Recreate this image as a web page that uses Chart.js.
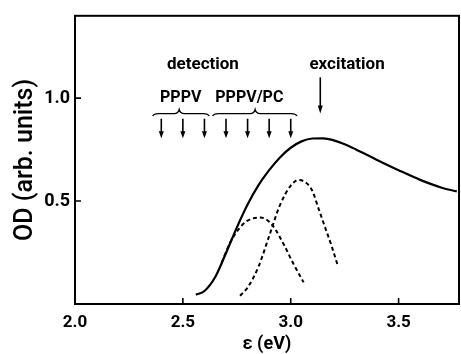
<!DOCTYPE html>
<html>
<head>
<meta charset="utf-8">
<script src="https://cdn.jsdelivr.net/npm/chart.js@4.4.1/dist/chart.umd.min.js"></script>
<style>
html,body{margin:0;padding:0;background:#fff;}
canvas{display:block;}
</style>
</head>
<body>
<canvas id="c" width="461" height="354"></canvas>
<script>
// ---- data ----
const absorptionX = [2.56, 2.60, 2.65, 2.70, 2.75, 2.80, 2.85, 2.90, 2.95, 3.00, 3.05, 3.10, 3.15, 3.20, 3.25, 3.30, 3.35, 3.40, 3.50, 3.60, 3.70, 3.77];
const absorptionY = [0.045, 0.063, 0.131, 0.248, 0.371, 0.483, 0.576, 0.650, 0.712, 0.759, 0.790, 0.804, 0.805, 0.795, 0.776, 0.752, 0.726, 0.700, 0.650, 0.603, 0.565, 0.547];
const pppvX = [2.68, 2.72, 2.76, 2.80, 2.86, 2.90, 2.93, 2.97, 3.01, 3.06];
const pppvY = [0.20, 0.30, 0.365, 0.405, 0.42, 0.40, 0.36, 0.285, 0.20, 0.105];
const pppvPcX = [2.765, 2.80, 2.85, 2.90, 2.95, 3.00, 3.035, 3.07, 3.10, 3.13, 3.16, 3.19, 3.22];
const pppvPcY = [0.04, 0.08, 0.18, 0.33, 0.48, 0.575, 0.602, 0.59, 0.55, 0.46, 0.37, 0.28, 0.18];
const xTicks = [2.0, 2.5, 3.0, 3.5];
const yTicks = [0.5, 1.0];
const detectionEnergies = [2.4, 2.5, 2.6, 2.7, 2.8, 2.9, 3.0];
const excitationEnergy = 3.137;
const textLabels = ["detection", "excitation", "PPPV", "PPPV/PC"];
const labelX = [2.593, 3.261, 2.49, 2.808];
const labelY = [1.141, 1.141, 0.981, 0.981];
const braceStart = [2.36, 2.638];
const braceEnd = [2.622, 3.029];
const braceTip = [2.483, 2.835];

const FONT = "Roboto, 'Liberation Sans', sans-serif";

function pts(xs, ys){ return xs.map((x,i)=>({x:x, y:ys[i]})); }

const framePlugin = {
  id: 'frame',
  afterDraw(chart){
    const ctx = chart.ctx, a = chart.chartArea;
    const xs = chart.scales.x, ys = chart.scales.y;
    ctx.save();
    ctx.strokeStyle = '#000';
    ctx.lineWidth = 2;
    ctx.strokeRect(a.left, a.top, a.right - a.left, a.bottom - a.top);
    // inward tick marks
    ctx.lineWidth = 1.6;
    ctx.beginPath();
    xTicks.forEach(v => { if (v > xs.min) { const p = xs.getPixelForValue(v); ctx.moveTo(p, a.bottom); ctx.lineTo(p, a.bottom - 6); } });
    yTicks.forEach(v => { const p = ys.getPixelForValue(v); ctx.moveTo(a.left, p); ctx.lineTo(a.left + 6, p); });
    ctx.stroke();

    // annotation text
    ctx.fillStyle = '#000';
    ctx.textAlign = 'center';
    ctx.textBaseline = 'alphabetic';
    textLabels.forEach((t,i) => {
      ctx.font = (i < 2 ? "bold 17px " : "bold 16px ") + FONT;
      ctx.fillText(t, xs.getPixelForValue(labelX[i]), ys.getPixelForValue(labelY[i]));
    });

    // arrow helper
    function arrow(x, yTop, yBot, headH, headW){
      const px = xs.getPixelForValue(x);
      const p1 = ys.getPixelForValue(yTop), p2 = ys.getPixelForValue(yBot);
      ctx.beginPath();
      ctx.lineWidth = 1.6;
      ctx.moveTo(px, p1); ctx.lineTo(px, p2 - headH + 1);
      ctx.stroke();
      ctx.beginPath();
      ctx.moveTo(px - headW/2, p2 - headH);
      ctx.lineTo(px + headW/2, p2 - headH);
      ctx.lineTo(px, p2);
      ctx.closePath();
      ctx.fill();
    }
    detectionEnergies.forEach(e => arrow(e, 0.90, 0.805, 7, 5));
    arrow(excitationEnergy, 1.101, 0.925, 8, 5);

    // braces
    ctx.lineWidth = 1.4;
    braceStart.forEach((s,i) => {
      const x1 = xs.getPixelForValue(s), x2 = xs.getPixelForValue(braceEnd[i]), xm = xs.getPixelForValue(braceTip[i]);
      const yEnd = ys.getPixelForValue(0.913), yMid = ys.getPixelForValue(0.925), yTip = ys.getPixelForValue(0.944);
      ctx.beginPath();
      ctx.moveTo(x1, yEnd);
      ctx.quadraticCurveTo(x1 + 1, yMid, x1 + 6, yMid);
      ctx.lineTo(xm - 5, yMid);
      ctx.quadraticCurveTo(xm - 1, yMid, xm, yTip);
      ctx.quadraticCurveTo(xm + 1, yMid, xm + 5, yMid);
      ctx.lineTo(x2 - 6, yMid);
      ctx.quadraticCurveTo(x2 - 1, yMid, x2, yEnd);
      ctx.stroke();
    });
    ctx.restore();
  }
};

new Chart(document.getElementById('c'), {
  type: 'line',
  data: {
    datasets: [
      { data: pts(absorptionX, absorptionY), borderColor: '#000', borderWidth: 2.2, pointRadius: 0, cubicInterpolationMode: 'monotone', fill: false },
      { data: pts(pppvX, pppvY), borderColor: '#000', borderWidth: 2, borderDash: [4, 3], pointRadius: 0, cubicInterpolationMode: 'monotone', fill: false },
      { data: pts(pppvPcX, pppvPcY), borderColor: '#000', borderWidth: 2, borderDash: [4, 3], pointRadius: 0, cubicInterpolationMode: 'monotone', fill: false }
    ]
  },
  options: {
    responsive: false,
    animation: false,
    events: [],
    layout: { padding: { left: 0, top: 13, right: 2, bottom: 0 } },
    plugins: { legend: { display: false }, tooltip: { enabled: false } },
    scales: {
      x: {
        type: 'linear', min: 2.0, max: 3.78,
        afterBuildTicks: s => { s.ticks = xTicks.map(v => ({ value: v })); },
        afterFit: s => { s.height = 50; },
        grid: { display: false, drawTicks: false },
        border: { display: false },
        ticks: { color: '#000', padding: 9, maxRotation: 0, autoSkip: false, font: { family: FONT, size: 17, weight: 'bold' }, callback: v => Number(v).toFixed(1) },
        title: { display: true, text: 'ε (eV)', color: '#000', padding: { top: 0, bottom: 1 }, font: { family: FONT, size: 18, weight: 'bold', lineHeight: 1 } }
      },
      y: {
        type: 'linear', min: 0, max: 1.4,
        afterBuildTicks: s => { s.ticks = yTicks.map(v => ({ value: v })); },
        afterFit: s => { s.width = 75; },
        grid: { display: false, drawTicks: false },
        border: { display: false },
        ticks: { color: '#000', padding: 5, autoSkip: false, font: { family: FONT, size: 18, weight: 'bold' }, callback: v => Number(v).toFixed(1) },
        title: { display: true, text: 'OD (arb. units)', color: '#000', padding: { top: 13, bottom: 0 }, font: { family: FONT, size: 25, weight: '500', lineHeight: 1 } }
      }
    }
  },
  plugins: [framePlugin]
});
</script>
</body>
</html>
